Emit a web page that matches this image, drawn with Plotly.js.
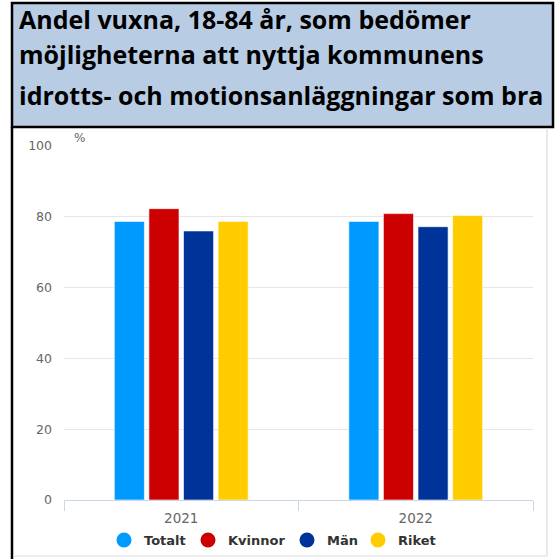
<!DOCTYPE html>
<html>
<head>
<meta charset="utf-8">
<script src="https://cdn.plot.ly/plotly-3.0.1.min.js"></script>
<style>html,body{margin:0;padding:0;background:#fff;}#chart{width:557px;height:559px;}</style>
</head>
<body>
<div id="chart"></div>
<script>
const categories = ["2021", "2022"];
const seriesNames = ["Totalt", "Kvinnor", "Män", "Riket"];
const totalt = [78.7, 78.7];
const kvinnor = [82.3, 80.9];
const man = [76.0, 77.2];
const riket = [78.7, 80.4];
const titleLines = [
  "Andel vuxna, 18-84 år, som bedömer",
  "möjligheterna att nyttja kommunens",
  "idrotts- och motionsanläggningar som bra"
];
const yTicks = [0, 20, 40, 60, 80, 100];

const colors = ["#0099ff", "#cc0000", "#003399", "#ffcc00"];
const seriesValues = [totalt, kvinnor, man, riket];

const W = 557, H = 559;
const L = 64, R = 533, T = 146, B = 500;
const px = x => (x - L) / (R - L);
const py = y => (B - y) / (B - T);

const legendIds = ["legend", "legend2", "legend3", "legend4"];
const legendCircleX = [125, 209, 308, 379];

const traces = [];
seriesNames.forEach((name, i) => {
  traces.push({
    type: "bar", name: name, x: categories, y: seriesValues[i],
    marker: {color: colors[i], line: {color: "rgba(255,255,255,0.6)", width: 1}},
    showlegend: false, hoverinfo: "x+y+name"
  });
});
seriesNames.forEach((name, i) => {
  traces.push({
    type: "scatter", mode: "markers", name: name, x: [null], y: [null],
    marker: {color: colors[i], size: 15, symbol: "circle"},
    showlegend: true, legend: legendIds[i]
  });
});

const annotations = titleLines.map((t, i) => ({
  text: "<b>" + t + "</b>", xref: "paper", yref: "paper",
  x: px(17), y: py([31.5, 66, 107.5][i] + 7), xanchor: "left", yanchor: "bottom",
  showarrow: false, align: "left",
  font: {family: "'Open Sans', sans-serif", size: 25, color: "#000"}
}));
annotations.push({
  text: "%", xref: "paper", yref: "paper", x: px(79), y: py(138),
  xanchor: "center", yanchor: "middle", showarrow: false,
  font: {family: "DejaVu Sans, sans-serif", size: 12, color: "#666"}
});

const shapes = [
  {type: "rect", xref: "paper", yref: "paper", x0: px(12), x1: px(553), y0: py(3), y1: py(127),
   fillcolor: "#b8cce4", line: {color: "#000", width: 2.5}, layer: "below"},
  {type: "line", xref: "paper", yref: "paper", x0: px(12), x1: px(12), y0: py(127), y1: py(560),
   line: {color: "#000", width: 2.5}},
  {type: "line", xref: "paper", yref: "paper", x0: px(547), x1: px(547), y0: py(128), y1: py(556),
   line: {color: "#dcdcdc", width: 1.2}},
  {type: "line", xref: "paper", yref: "paper", x0: px(13), x1: px(547), y0: py(556), y1: py(556),
   line: {color: "#dcdcdc", width: 1.2}}
];

const layout = {
  width: W, height: H,
  margin: {l: L, r: W - R, t: T, b: H - B, pad: 0, autoexpand: false},
  paper_bgcolor: "#fff", plot_bgcolor: "#fff",
  barmode: "group", bargap: 0.41, bargroupgap: 0.13,
  showlegend: true,
  xaxis: {type: "category", showgrid: false, showline: true, linecolor: "#ccd6eb", linewidth: 1,
    ticks: "outside", tickson: "boundaries", ticklen: 10, tickcolor: "#ccd6eb", ticklabelstandoff: 6,
    tickfont: {family: "DejaVu Sans, sans-serif", size: 13.5, color: "#666"}, zeroline: false, fixedrange: true},
  yaxis: {range: [0, 100], tickvals: yTicks, showgrid: true, gridcolor: "#e6e6e6", gridwidth: 1,
    zeroline: false, showline: false, ticks: "", ticklabelstandoff: 11,
    tickfont: {family: "DejaVu Sans, sans-serif", size: 12.5, color: "#666"}, fixedrange: true},
  annotations: annotations,
  shapes: shapes
};
legendIds.forEach((id, i) => {
  layout[id] = {orientation: "h", x: px(legendCircleX[i] - 21), xanchor: "left", y: py(540), yanchor: "middle",
    font: {family: "DejaVu Sans, sans-serif", size: 13, color: "#333", weight: "bold"},
    itemsizing: "trace", itemwidth: 30, bgcolor: "rgba(0,0,0,0)", borderwidth: 0};
});

Plotly.newPlot("chart", traces, layout, {displayModeBar: false, staticPlot: true});
</script>
</body>
</html>
